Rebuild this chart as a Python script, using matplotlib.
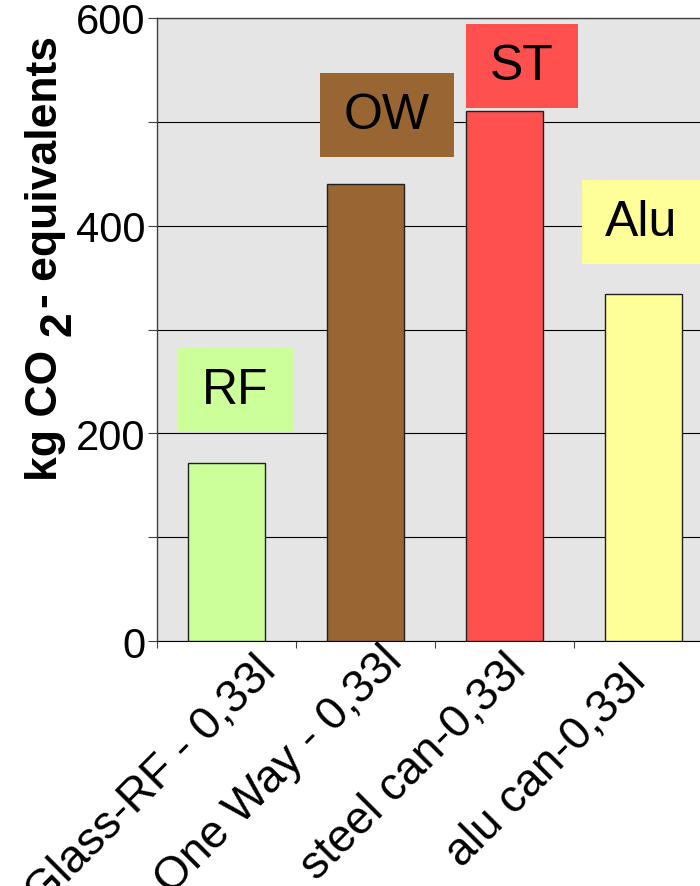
import matplotlib
matplotlib.use("Agg")
import matplotlib.pyplot as plt
import matplotlib.transforms as mtransforms
from matplotlib.patches import Rectangle
import numpy as np

plt.rcParams["font.family"] = ["Liberation Sans", "DejaVu Sans"]

# ─── Data ────────────────────────────────────────────────────────────────────
categories = ["Glass-RF - 0,33l", "Glass One Way - 0,33l",
              "steel can-0,33l", "alu can-0,33l"]
co2_values = [171, 440, 510, 334]
tags = ["RF", "OW", "ST", "Alu"]
colors = ["#CCFF99", "#996633", "#FF5050", "#FFFF99"]

# tag boxes: (left, right) offset from category centre, bottom in kg
TAG_X = [(-0.35, 0.48), (-0.33, 0.64), (-0.28, 0.53), (-0.44, 0.41)]
TAG_BOTTOM = [201, 466, 513, 363]
TAG_HEIGHT = 81
# nudges of the rotated category labels (px right, px down)
LABEL_SHIFT = [(27, 7), (15, -3), (-1, 5), (-20, 17)]

# ─── Figure ──────────────────────────────────────────────────────────────────
W, H = 700, 887
fig = plt.figure(figsize=(W / 100, H / 100), dpi=100)
ax = fig.add_axes([157 / W, 1 - 642 / H, 556 / W, 623 / H])
ax.set_facecolor("#E5E5E5")

x = np.arange(len(categories))
ax.bar(x, co2_values, width=0.56, color=colors,
       edgecolor="#202020", linewidth=1.0, zorder=3)

for i in range(len(tags)):
    l, r = TAG_X[i]
    ax.add_patch(Rectangle((x[i] + l, TAG_BOTTOM[i]), r - l, TAG_HEIGHT,
                           facecolor=colors[i], edgecolor="none",
                           zorder=4, clip_on=False))
    ax.text(x[i] + (l + r) / 2, TAG_BOTTOM[i] + TAG_HEIGHT / 2, tags[i],
            ha="center", va="center", fontsize=36, zorder=5)

ax.set_xlim(-0.5, len(categories) - 0.5)
ax.set_ylim(0, 600)

# y axis
ax.set_yticks([0, 200, 400, 600])
ax.set_yticks([100, 300, 500], minor=True)
ax.yaxis.grid(True, which="both", color="black", linewidth=0.8)
ax.set_axisbelow(True)
ax.tick_params(axis="y", which="both", direction="out", length=6.5,
               width=0.8, color="#404040", pad=2, labelsize=30)

# x axis
ax.set_xticks(x)
ax.set_xticks(np.arange(-0.5, len(categories)), minor=True)
ax.set_xticklabels(categories, rotation=45, ha="right", va="top",
                   rotation_mode="anchor", fontsize=33)
ax.tick_params(axis="x", which="major", length=0, pad=0)
ax.tick_params(axis="x", which="minor", length=5, width=0.8,
               color="#404040", direction="out")
for lab, (dx, dy) in zip(ax.get_xticklabels(), LABEL_SHIFT):
    lab.set_transform(lab.get_transform() +
                      mtransforms.ScaledTranslation(dx / 100, -dy / 100,
                                                    fig.dpi_scale_trans))

for side in ["left", "top"]:
    ax.spines[side].set_color("#404040")
    ax.spines[side].set_linewidth(1.0)
ax.spines["bottom"].set_color("black")
ax.spines["right"].set_visible(False)

# y label in three pieces so the "2" keeps full size, set lower
renderer = fig.canvas.get_renderer()
ylab_kw = dict(rotation=90, rotation_mode="anchor", ha="left",
               va="baseline", fontsize=32, fontweight="bold",
               transform=mtransforms.IdentityTransform())
base_x, y0 = 57, H - 481
t1 = fig.text(base_x, y0, "kg CO", **ylab_kw)
y1 = y0 + t1.get_window_extent(renderer).height + 14
t2 = fig.text(base_x + 13, y1, "2", **ylab_kw)
y2 = y1 + t2.get_window_extent(renderer).height + 3
fig.text(base_x, y2, "- equivalents", **ylab_kw)

fig.savefig("out.png", dpi=100)
